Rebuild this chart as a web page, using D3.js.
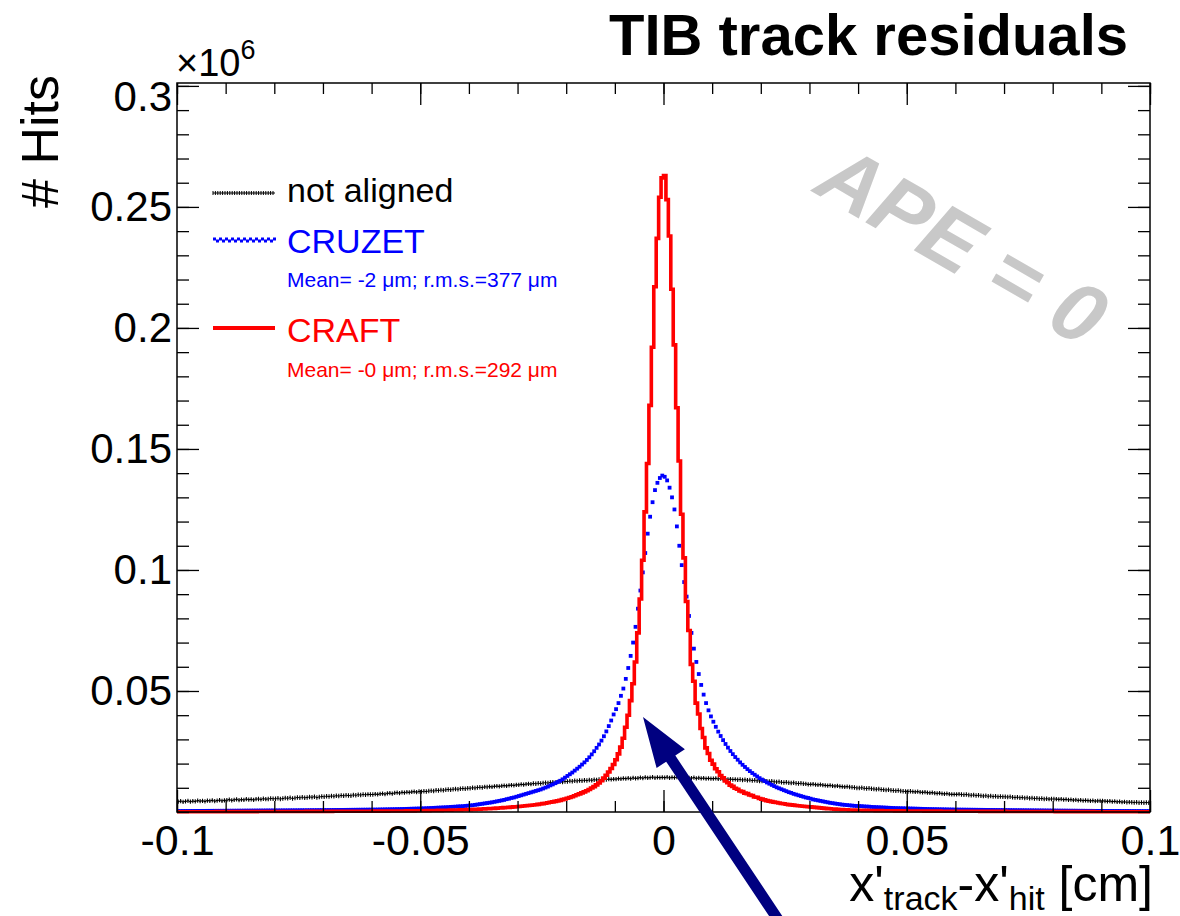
<!DOCTYPE html>
<html><head><meta charset="utf-8">
<script src="https://cdn.jsdelivr.net/npm/d3@7"></script>
<style>html,body{margin:0;padding:0;background:#fff;} svg{display:block;} text{font-family:"Liberation Sans",Arial,Helvetica,sans-serif;}</style>
</head><body><svg id="c" width="1180" height="916"></svg>
<script>
// ---- data (hits in thousands, 400 bins of 0.0005 cm from -0.1 to 0.1) ----
const xRange = [-0.1, 0.1];
const binWidth = 0.0005;

const notAligned = [
4.3,4.5,4.2,4.4,4.6,4.3,4.5,4.4,4.7,4.5,4.6,4.4,4.7,4.6,4.8,4.5,4.7,4.9,4.6,4.8,
4.9,5.1,4.8,5.0,5.2,4.9,5.1,5.0,5.3,5.1,5.2,5.0,5.3,5.4,5.2,5.5,5.3,5.4,5.6,5.5,
5.5,5.7,5.4,5.6,5.8,5.7,5.9,5.6,5.8,6.0,5.9,6.1,5.9,6.0,6.2,6.1,6.3,6.0,6.2,6.4,
6.3,6.5,6.4,6.6,6.5,6.7,6.6,6.8,6.7,6.9,6.8,6.7,7.0,6.9,7.1,7.0,7.2,7.1,7.3,7.2,
7.2,7.4,7.3,7.5,7.6,7.4,7.7,7.8,7.6,7.9,8.0,7.8,8.1,8.0,8.2,8.1,8.3,8.4,8.2,8.5,
8.4,8.6,8.5,8.7,8.8,8.7,9.0,8.9,9.1,9.0,9.2,9.3,9.2,9.4,9.5,9.4,9.6,9.7,9.6,9.8,
9.8,10.0,9.9,10.1,10.2,10.1,10.4,10.3,10.5,10.4,10.6,10.7,10.6,10.8,10.9,10.8,11.0,11.1,11.0,11.2,
11.2,11.4,11.3,11.5,11.6,11.5,11.8,11.7,11.9,11.8,12.0,12.1,12.0,12.2,12.3,12.2,12.4,12.5,12.4,12.6,
12.6,12.8,12.7,12.9,12.8,13.0,12.9,13.1,13.0,13.2,13.1,13.3,13.2,13.4,13.3,13.5,13.4,13.6,13.5,13.6,
13.6,13.8,13.7,13.9,13.8,14.0,13.8,14.1,13.9,14.0,14.2,14.0,14.3,14.1,14.2,14.4,14.1,14.3,14.2,14.3,
14.2,14.4,14.1,14.3,14.2,14.4,14.1,14.3,14.0,14.2,14.1,14.0,14.2,13.9,14.1,13.9,14.0,13.8,13.9,13.8,
13.8,13.9,13.7,13.8,13.6,13.7,13.5,13.6,13.4,13.5,13.3,13.4,13.2,13.3,13.1,13.2,13.0,13.1,12.9,12.8,
12.8,12.9,12.7,12.6,12.7,12.5,12.4,12.5,12.3,12.2,12.3,12.1,12.0,12.1,11.9,11.8,11.9,11.7,11.6,11.4,
11.4,11.5,11.3,11.2,11.3,11.1,11.0,10.9,11.0,10.8,10.7,10.8,10.6,10.5,10.4,10.5,10.3,10.2,10.1,9.9,
9.9,10.0,9.8,9.7,9.8,9.6,9.5,9.4,9.5,9.3,9.2,9.1,9.2,9.0,8.9,8.8,8.9,8.7,8.6,8.5,
8.5,8.6,8.4,8.3,8.4,8.2,8.1,8.2,8.0,7.9,8.0,7.8,7.7,7.8,7.6,7.5,7.6,7.4,7.3,7.3,
7.3,7.4,7.2,7.1,7.2,7.0,6.9,7.0,6.8,6.9,6.7,6.6,6.7,6.5,6.6,6.4,6.5,6.3,6.4,6.3,
6.3,6.2,6.3,6.1,6.0,6.1,5.9,6.0,5.8,5.9,5.7,5.8,5.6,5.7,5.5,5.6,5.4,5.5,5.3,5.4,
5.4,5.3,5.2,5.3,5.1,5.2,5.0,5.1,4.9,5.0,4.8,4.9,4.7,4.8,4.7,4.6,4.7,4.5,4.6,4.6,
4.6,4.5,4.4,4.5,4.3,4.4,4.2,4.3,4.1,4.2,4.0,4.1,4.0,3.9,4.0,3.8,3.9,3.8,3.9,3.8
];

const cruzet = [
0.4,0.41,0.41,0.42,0.42,0.43,0.43,0.44,0.45,0.45,0.46,0.46,0.47,0.47,0.48,0.49,0.49,0.5,0.5,0.51,
0.52,0.52,0.53,0.53,0.54,0.55,0.55,0.56,0.57,0.57,0.58,0.59,0.59,0.6,0.61,0.61,0.62,0.63,0.63,0.64,
0.65,0.65,0.66,0.67,0.67,0.68,0.69,0.7,0.7,0.71,0.72,0.73,0.73,0.74,0.75,0.76,0.76,0.77,0.78,0.79,
0.8,0.8,0.81,0.82,0.83,0.84,0.85,0.86,0.87,0.88,0.89,0.9,0.91,0.92,0.93,0.94,0.95,0.96,0.97,0.98,
0.99,1.0,1.02,1.04,1.06,1.08,1.1,1.12,1.14,1.16,1.18,1.2,1.23,1.26,1.29,1.32,1.35,1.38,1.41,1.44,
1.47,1.5,1.55,1.6,1.65,1.7,1.75,1.8,1.85,1.9,1.95,2.0,2.1,2.15,2.2,2.3,2.35,2.4,2.5,2.6,
2.7,2.8,2.95,3.1,3.25,3.4,3.55,3.7,3.85,4.0,4.2,4.4,4.6,4.8,5.0,5.3,5.5,5.8,6.0,6.3,
6.6,6.9,7.2,7.5,7.8,8.1,8.4,8.7,9.0,9.3,9.7,10.1,10.5,11.0,11.4,11.9,12.4,12.9,13.5,14.2,
14.9,15.6,16.3,17.1,17.9,18.7,19.6,20.5,21.5,22.6,23.8,25.1,26.5,27.9,29.5,31.3,33.3,35.5,37.8,40.3,
42.5,45,48,51,55,59.5,64.5,70,76.5,84,91.5,99,107,115,122,128,133,136,138,139,
138.5,137,134,130,125,118,110,102,95,89,81,74,67.5,62,57,52.5,48.5,45,42,39.5,
37.3,35.2,33.2,31.4,29.7,28.1,26.6,25.2,23.9,22.7,21.6,20.5,19.5,18.6,17.7,16.9,16.1,15.4,14.7,14.0,
13.4,12.8,12.2,11.7,11.2,10.7,10.2,9.8,9.4,9.0,8.6,8.2,7.9,7.5,7.2,6.9,6.6,6.3,6.0,5.8,
5.5,5.2,5.0,4.8,4.6,4.4,4.2,4.0,3.8,3.65,3.5,3.35,3.2,3.05,2.95,2.85,2.75,2.65,2.55,2.5,
2.45,2.4,2.3,2.25,2.2,2.1,2.05,2.0,1.95,1.9,1.85,1.8,1.75,1.7,1.65,1.6,1.58,1.55,1.52,1.5,
1.47,1.44,1.41,1.38,1.35,1.32,1.29,1.26,1.23,1.2,1.18,1.16,1.14,1.12,1.1,1.08,1.06,1.04,1.02,1.0,
0.99,0.98,0.97,0.96,0.95,0.94,0.93,0.92,0.91,0.9,0.89,0.88,0.87,0.86,0.85,0.84,0.83,0.82,0.81,0.8,
0.79,0.78,0.77,0.76,0.75,0.74,0.73,0.72,0.71,0.7,0.69,0.68,0.67,0.66,0.65,0.64,0.63,0.62,0.61,0.6,
0.59,0.58,0.57,0.56,0.56,0.55,0.54,0.53,0.53,0.52,0.51,0.5,0.5,0.49,0.48,0.48,0.47,0.46,0.46,0.45,
0.45,0.44,0.44,0.43,0.43,0.42,0.42,0.42,0.41,0.41,0.41,0.4,0.4,0.4,0.39,0.39,0.39,0.38,0.38,0.38
];

const craft = [
0.1,0.1,0.11,0.11,0.11,0.11,0.12,0.12,0.12,0.12,0.12,0.13,0.13,0.13,0.13,0.13,0.14,0.14,0.14,0.14,
0.14,0.15,0.15,0.15,0.15,0.16,0.16,0.16,0.16,0.17,0.17,0.17,0.17,0.18,0.18,0.18,0.18,0.19,0.19,0.19,
0.2,0.2,0.2,0.2,0.21,0.21,0.21,0.22,0.22,0.22,0.23,0.23,0.23,0.24,0.24,0.24,0.25,0.25,0.25,0.26,
0.26,0.26,0.27,0.27,0.28,0.28,0.28,0.29,0.29,0.3,0.3,0.3,0.31,0.31,0.32,0.32,0.33,0.33,0.34,0.34,
0.35,0.35,0.36,0.36,0.37,0.38,0.38,0.39,0.4,0.4,0.41,0.42,0.43,0.44,0.45,0.46,0.47,0.48,0.5,0.5,
0.52,0.54,0.56,0.58,0.6,0.62,0.64,0.66,0.68,0.7,0.72,0.75,0.78,0.8,0.82,0.85,0.88,0.91,0.94,0.97,
1.0,1.05,1.1,1.15,1.2,1.25,1.3,1.35,1.4,1.45,1.5,1.6,1.65,1.7,1.8,1.85,1.9,2.0,2.1,2.2,
2.3,2.4,2.5,2.6,2.7,2.8,2.9,3.0,3.15,3.3,3.45,3.6,3.8,4.0,4.2,4.4,4.6,4.8,5.1,5.4,
5.7,6.0,6.3,6.7,7.1,7.5,7.9,8.3,8.8,9.3,9.9,10.5,11.2,12,12.9,14,15.2,16.5,18,19.6,
21.6,24,26.8,30.5,35,40,46,53,62,74,88,104,124,144,168,192,217,237,254,262,
263,253,238,216,193,167,145,123,105,87,75,61,54,45,40.5,34.5,30.8,26.5,24.2,21.4,
19.8,17.9,16.6,15.1,14.1,12.8,12.1,11.1,10.6,9.8,9.4,8.7,8.4,7.8,7.6,7.0,6.8,6.2,6.1,5.6,
5.3,5.0,4.7,4.5,4.3,4.1,3.9,3.7,3.5,3.4,3.2,3.05,2.95,2.85,2.7,2.6,2.5,2.4,2.3,2.2,
2.1,2.0,1.9,1.8,1.7,1.6,1.5,1.4,1.35,1.25,1.2,1.1,1.05,1.0,0.95,0.9,0.85,0.8,0.78,0.75,
0.72,0.7,0.68,0.66,0.64,0.62,0.6,0.58,0.56,0.55,0.54,0.52,0.51,0.5,0.49,0.48,0.47,0.46,0.45,0.44,
0.43,0.42,0.42,0.41,0.4,0.4,0.39,0.38,0.38,0.37,0.36,0.36,0.35,0.35,0.34,0.34,0.33,0.33,0.32,0.32,
0.31,0.31,0.3,0.3,0.3,0.29,0.29,0.28,0.28,0.28,0.27,0.27,0.26,0.26,0.26,0.25,0.25,0.25,0.24,0.24,
0.24,0.23,0.23,0.23,0.22,0.22,0.22,0.21,0.21,0.21,0.2,0.2,0.2,0.2,0.19,0.19,0.19,0.18,0.18,0.18,
0.18,0.17,0.17,0.17,0.17,0.16,0.16,0.16,0.16,0.15,0.15,0.15,0.15,0.14,0.14,0.14,0.14,0.13,0.13,0.13,
0.13,0.13,0.12,0.12,0.12,0.12,0.12,0.11,0.11,0.11,0.11,0.11,0.1,0.1,0.1,0.1,0.1,0.1,0.1,0.1
];

const xMajorTicks = [-0.1, -0.05, 0, 0.05, 0.1];
const xTickLabels = ["-0.1", "-0.05", "0", "0.05", "0.1"];
const yMajorTicks = [0.05, 0.1, 0.15, 0.2, 0.25, 0.3];
const yTickLabels = ["0.05", "0.1", "0.15", "0.2", "0.25", "0.3"];
const seriesNames = ["not aligned", "CRUZET", "CRAFT"];
const seriesStats = ["", "Mean= -2 \u03bcm; r.m.s.=377 \u03bcm", "Mean= -0 \u03bcm; r.m.s.=292 \u03bcm"];
const seriesColors = ["#000000", "#0000ff", "#ff0000"];

// ---- drawing ----
const FONT = '"Liberation Sans",Arial,Helvetica,sans-serif';
const svg = d3.select("#c");
const L = 177, R = 1150, T = 83, B = 812;
const x = d3.scaleLinear().domain(xRange).range([L, R]);
const y = d3.scaleLinear().domain([0, 0.3012]).range([B, T]);
const toM = v => v / 1000; // thousands -> 10^6

const lo = i => xRange[0] + i * binWidth;
const ctr = i => xRange[0] + (i + 0.5) * binWidth;

svg.append("defs").append("clipPath").attr("id", "clip")
  .append("rect").attr("x", L).attr("y", T).attr("width", R - L).attr("height", B - T + 2);

const plot = svg.append("g").attr("clip-path", "url(#clip)");

// not aligned: error-bar style
let pb = "";
notAligned.forEach((v, i) => {
  const yy = y(toM(v));
  pb += `M${x(lo(i))},${yy}H${x(lo(i) + binWidth)}`;
  const cx = x(ctr(i));
  pb += `M${cx},${yy - 2.2}V${yy + 2.2}`;
});
plot.append("path").attr("d", pb).attr("fill", "none").attr("stroke", "#000").attr("stroke-width", 1.1);

// CRUZET: markers
plot.append("g").selectAll("rect").data(cruzet).join("rect")
  .attr("x", (d, i) => x(ctr(i)) - 1.9).attr("y", d => y(toM(d)) - 1.9)
  .attr("width", 3.8).attr("height", 3.8).attr("fill", "#0000ff");

// CRAFT: step histogram
const stepPts = craft.map((v, i) => [lo(i), v]);
stepPts.push([lo(craft.length - 1) + binWidth, craft[craft.length - 1]]);
plot.append("path")
  .attr("d", d3.line().x(d => x(d[0])).y(d => y(toM(d[1]))).curve(d3.curveStepAfter)(stepPts))
  .attr("fill", "none").attr("stroke", "#ff0000").attr("stroke-width", 3.6).attr("stroke-linejoin", "miter");

// frame
svg.append("rect").attr("x", L).attr("y", T).attr("width", R - L).attr("height", B - T)
  .attr("fill", "none").attr("stroke", "#000").attr("stroke-width", 1.5);

function styleAxis(g, fs) {
  g.attr("font-family", FONT).attr("font-size", fs || 10);
  g.select(".domain").remove();
  g.selectAll("line").attr("stroke", "#000").attr("stroke-width", 1.3);
  g.selectAll("text").attr("fill", "#000");
}
// x axes
svg.append("g").attr("transform", `translate(0,${B})`)
  .call(d3.axisBottom(x).tickValues(x.ticks(20)).tickSize(-11).tickFormat("")).call(g => styleAxis(g));
svg.append("g").attr("transform", `translate(0,${B})`)
  .call(d3.axisBottom(x).tickValues(xMajorTicks).tickSize(-22).tickPadding(12).tickFormat((d, i) => xTickLabels[i]))
  .call(g => styleAxis(g, 43));
svg.append("g").attr("transform", `translate(0,${T})`)
  .call(d3.axisTop(x).tickValues(x.ticks(20)).tickSize(-11).tickFormat("")).call(g => styleAxis(g));
svg.append("g").attr("transform", `translate(0,${T})`)
  .call(d3.axisTop(x).tickValues(xMajorTicks).tickSize(-22).tickFormat("")).call(g => styleAxis(g));
// y axes
svg.append("g").attr("transform", `translate(${L},0)`)
  .call(d3.axisLeft(y).tickValues(y.ticks(30)).tickSize(-12).tickFormat("")).call(g => styleAxis(g));
const yl = svg.append("g").attr("transform", `translate(${L},0)`)
  .call(d3.axisLeft(y).tickValues(yMajorTicks).tickSize(-22).tickPadding(5).tickFormat((d, i) => yTickLabels[i]))
  .call(g => styleAxis(g, 42));
yl.selectAll("text").filter(d => d === 0.3).attr("y", 11);
svg.append("g").attr("transform", `translate(${R},0)`)
  .call(d3.axisRight(y).tickValues(y.ticks(30)).tickSize(-12).tickFormat("")).call(g => styleAxis(g));
svg.append("g").attr("transform", `translate(${R},0)`)
  .call(d3.axisRight(y).tickValues(yMajorTicks).tickSize(-22).tickFormat("")).call(g => styleAxis(g));

// x10^6
const ex = svg.append("text").attr("x", 176).attr("y", 76).attr("font-family", FONT).attr("font-size", 38).attr("fill", "#000");
ex.append("tspan").text("\u00d710");
ex.append("tspan").attr("font-size", 27).attr("dy", -17).text("6");

// title
svg.append("text").attr("x", 1128).attr("y", 55).attr("text-anchor", "end")
  .attr("font-family", FONT).attr("font-weight", "bold").attr("font-size", 58).text("TIB track residuals");

// y title
svg.append("text").attr("transform", "translate(58,75) rotate(-90)").attr("text-anchor", "end")
  .attr("font-family", FONT).attr("font-size", 52).text("# Hits");

// x title
const xt = svg.append("text").attr("x", 1153).attr("y", 901).attr("text-anchor", "end")
  .attr("font-family", FONT).attr("font-size", 50);
xt.append("tspan").text("x'");
xt.append("tspan").attr("font-size", 34).attr("dy", 9).text("track");
xt.append("tspan").attr("dy", -9).text("-x'");
xt.append("tspan").attr("font-size", 34).attr("dy", 9).text("hit");
xt.append("tspan").attr("dy", -9).text(" [cm]");

// legend
const legY = [193, 240, 328];
const legTextY = [202, 253, 342];
const statY = [0, 287, 377];
const lx0 = 213, lx1 = 275;
// black sample
let lb = `M${lx0},${legY[0]}H${lx1}`;
for (let xx = lx0; xx <= lx1; xx += 2.4) lb += `M${xx},${legY[0] - 2}V${legY[0] + 2}`;
svg.append("path").attr("d", lb).attr("stroke", "#000").attr("stroke-width", 1).attr("fill", "none");
// blue sample
const bl = [];
for (let xx = lx0; xx <= lx1; xx += 3) bl.push(xx);
svg.append("g").selectAll("rect").data(bl).join("rect")
  .attr("x", d => d).attr("y", (d, i) => legY[1] - 1.5 + (i % 2 ? 1 : -1))
  .attr("width", 3).attr("height", 3).attr("fill", "#0000ff");
// red sample
svg.append("line").attr("x1", lx0).attr("x2", lx1).attr("y1", legY[2]).attr("y2", legY[2])
  .attr("stroke", "#ff0000").attr("stroke-width", 3.8);
seriesNames.forEach((n, i) => {
  svg.append("text").attr("x", 287).attr("y", legTextY[i]).attr("font-family", FONT).attr("font-size", 34)
    .attr("fill", seriesColors[i]).text(n);
  if (seriesStats[i]) svg.append("text").attr("x", 287).attr("y", statY[i]).attr("font-family", FONT)
    .attr("font-size", 21).attr("fill", seriesColors[i]).text(seriesStats[i]);
});

// APE = 0 watermark
svg.append("text").attr("transform", "translate(963,244) rotate(30)").attr("text-anchor", "middle")
  .attr("y", 30).attr("font-family", FONT).attr("font-weight", "bold").attr("font-style", "italic")
  .attr("font-size", 84).attr("fill", "#c8c8c8").text("APE = 0");

// arrow
const tip = [643, 717], tail = [785, 930];
const dx = tail[0] - tip[0], dy = tail[1] - tip[1], len = Math.hypot(dx, dy);
const ux = dx / len, uy = dy / len, px = -uy, py = ux;
const hl = 50, hw = 17, sw = 5.5;
const bx = tip[0] + ux * hl, by = tip[1] + uy * hl;
const arrowPts = [
  tip,
  [bx + px * hw, by + py * hw],
  [bx + px * sw, by + py * sw],
  [tail[0] + px * sw, tail[1] + py * sw],
  [tail[0] - px * sw, tail[1] - py * sw],
  [bx - px * sw, by - py * sw],
  [bx - px * hw, by - py * hw]
];
svg.append("polygon").attr("points", arrowPts.map(p => p.join(",")).join(" ")).attr("fill", "#000080");
</script>
</body></html>
